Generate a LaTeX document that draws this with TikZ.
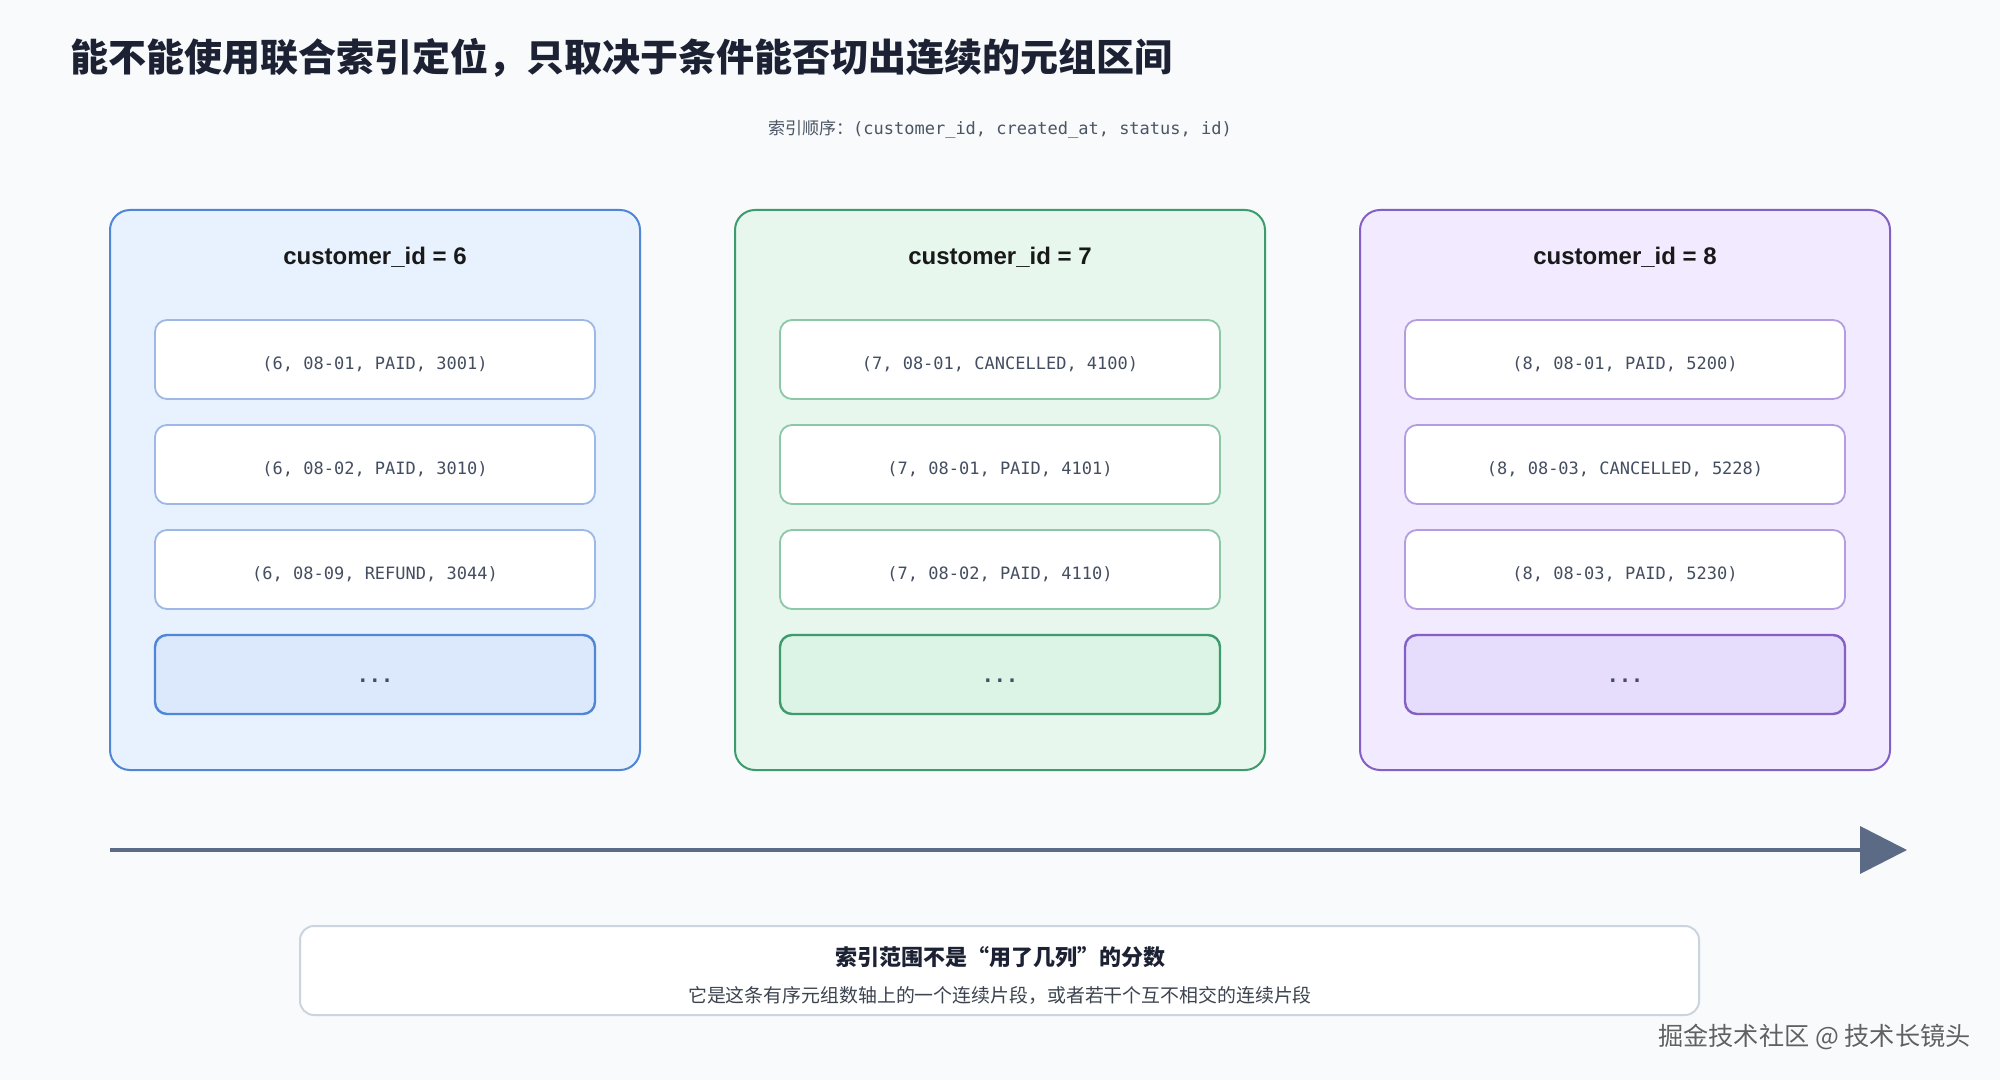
\documentclass[tikz,border=0pt]{standalone}
\usepackage{fontspec}
\setmainfont{Liberation Sans}
\newfontfamily\cjk{Noto Sans CJK SC}
\newfontfamily\mono{DejaVu Sans Mono}
\newfontfamily\lat{Liberation Sans}
\usetikzlibrary{arrows.meta}
\definecolor{bg}{HTML}{F8FAFC}
\definecolor{titlec}{HTML}{1C2233}
\definecolor{subc}{HTML}{4B5563}
\definecolor{tupc}{HTML}{444E60}
\definecolor{axisc}{HTML}{5B6B86}
\definecolor{bfill}{HTML}{E8F1FE}\definecolor{bdraw}{HTML}{4F86D6}\definecolor{binner}{HTML}{9DB8E6}\definecolor{bmore}{HTML}{DCE9FD}
\definecolor{gfill}{HTML}{E7F7EE}\definecolor{gdraw}{HTML}{3D9B6E}\definecolor{ginner}{HTML}{8CC7A6}\definecolor{gmore}{HTML}{DCF4E5}
\definecolor{pfill}{HTML}{F2EAFE}\definecolor{pdraw}{HTML}{8460C4}\definecolor{pinner}{HTML}{B39CE0}\definecolor{pmore}{HTML}{E6DCFB}
\definecolor{notedraw}{HTML}{CBD5E1}
\newcommand{\lowtxt}[2]{\raisebox{#1}[0pt][0pt]{#2}}
\tikzset{
  panel/.style={draw=#1, line width=1pt, rounded corners=10pt, minimum width=265pt, minimum height=280pt, inner sep=0pt},
  panelttl/.style={font=\lat\bfseries\fontsize{12pt}{14pt}\selectfont, text=black!90},
  tuple/.style={draw=#1, fill=white, line width=0.9pt, rounded corners=6pt, minimum width=220pt, minimum height=39.5pt, inner sep=0pt, font=\mono\fontsize{8.5pt}{10pt}\selectfont, text=tupc},
  morebox/.style={draw=#1, line width=1.2pt, rounded corners=6pt, minimum width=220pt, minimum height=39.5pt, inner sep=0pt, font=\mono\bfseries\fontsize{10pt}{11pt}\selectfont, text=tupc},
}
\begin{document}
\begin{tikzpicture}[x=0.5pt,y=-0.5pt]
\useasboundingbox[fill=bg] (0,0) rectangle (2000,1080);
\node[anchor=west, font=\cjk\bfseries\fontsize{19pt}{22pt}\selectfont, text=titlec, inner sep=0pt] (title) at (70,58) {能不能使用联合索引定位，只取决于条件能否切出连续的元组区间};
\node[font=\fontsize{8.5pt}{10pt}\selectfont, text=subc, inner sep=0pt] (order) at (1000,129) {{\cjk 索引顺序：}{\mono (customer\_id, created\_at, status, id)}};
% panels
\foreach \n/\cx/\c/\k in {a/375/b/6, b/1000/g/7, c/1625/p/8}{
  \node[panel=\c draw, fill=\c fill] (p\n) at (\cx,490) {};
  \node[panelttl] (t\n) at (\cx,257) {customer\_id = \k};
  \node[morebox=\c draw, fill=\c more] (m\n) at (\cx,674.5) {\lowtxt{-4pt}{...}};
}
\node[tuple=binner] (a1) at (375,359.5) {\lowtxt{-5pt}{(6, 08-01, PAID, 3001)}};
\node[tuple=binner] (a2) at (375,464.5) {\lowtxt{-5pt}{(6, 08-02, PAID, 3010)}};
\node[tuple=binner] (a3) at (375,569.5) {\lowtxt{-5pt}{(6, 08-09, REFUND, 3044)}};
\node[tuple=ginner] (b1) at (1000,359.5) {\lowtxt{-5pt}{(7, 08-01, CANCELLED, 4100)}};
\node[tuple=ginner] (b2) at (1000,464.5) {\lowtxt{-5pt}{(7, 08-01, PAID, 4101)}};
\node[tuple=ginner] (b3) at (1000,569.5) {\lowtxt{-5pt}{(7, 08-02, PAID, 4110)}};
\node[tuple=pinner] (c1) at (1625,359.5) {\lowtxt{-5pt}{(8, 08-01, PAID, 5200)}};
\node[tuple=pinner] (c2) at (1625,464.5) {\lowtxt{-5pt}{(8, 08-03, CANCELLED, 5228)}};
\node[tuple=pinner] (c3) at (1625,569.5) {\lowtxt{-5pt}{(8, 08-03, PAID, 5230)}};
% axis
\coordinate (axs) at (110,850);
\coordinate (axe) at (1907,850);
\draw[axisc, line width=2pt, -{Triangle[length=23.5pt,width=23.5pt]}] (axs) -- (axe);
% note
\node[draw=notedraw, fill=white, line width=1pt, rounded corners=7pt, minimum width=699.5pt, minimum height=44.5pt] (note) at (999.5,970.5) {};
\node[font=\cjk\bfseries\fontsize{11pt}{13pt}\selectfont, text=titlec, inner sep=0pt] (noteh) at (1000,957) {索引范围不是“用了几列”的分数};
\node[font=\cjk\fontsize{9.45pt}{11pt}\selectfont, text=subc!80!black, inner sep=0pt] (notes) at (1000,995) {它是这条有序元组数轴上的一个连续片段，或者若干个互不相交的连续片段};
% watermark
\node[font=\cjk\fontsize{12.6pt}{14pt}\selectfont, text=white, inner sep=0pt, anchor=east] (wms) at (1972,1038) {掘金技术社区 @ 技术长镜头};
\node[font=\cjk\fontsize{12.6pt}{14pt}\selectfont, text=black!62, inner sep=0pt, anchor=east] (wm) at (1971,1037) {掘金技术社区 @ 技术长镜头};
\end{tikzpicture}
\end{document}
